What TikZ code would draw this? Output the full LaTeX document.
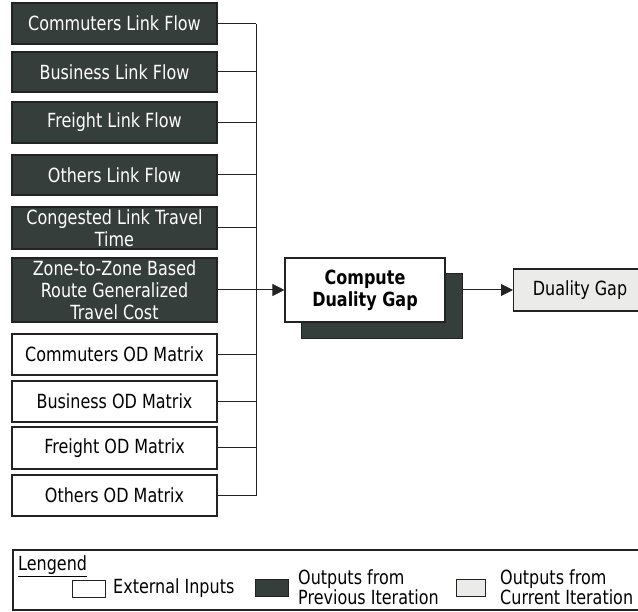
\documentclass[tikz,border=0pt]{standalone}
\usepackage{fontspec}
\setmainfont{DejaVu Sans}[FakeStretch=0.82]
\usetikzlibrary{arrows.meta}
\definecolor{prevfill}{RGB}{53,62,59}
\definecolor{currfill}{RGB}{235,235,233}
\definecolor{inkline}{RGB}{35,35,35}
\begin{document}
\begin{tikzpicture}[x=1pt,y=-1pt,
  font=\fontsize{19.5}{22}\selectfont,
  basebox/.style={draw=inkline,line width=1.1pt,inner sep=0pt,align=center},
  prevbox/.style={basebox,fill=prevfill,text=white,minimum width=205pt},
  inbox/.style={basebox,fill=white,text=black,minimum width=205pt},
  currbox/.style={basebox,fill=currfill,text=black},
  procbox/.style={basebox,fill=white,font=\fontsize{19.5}{22}\selectfont\bfseries,minimum width=160pt,minimum height=64pt},
  feed/.style={draw=inkline,line width=1pt},
  flow/.style={feed,-{Triangle[length=12pt,width=12pt]}},
  swatch/.style={draw=inkline,line width=0.9pt,minimum width=33pt,minimum height=17pt,inner sep=0pt}
]
\clip (0,0) rectangle (638,612);

% previous-iteration outputs
\node[prevbox,minimum height=41pt] (clf) at (114.5,23.5) {Commuters Link Flow};
\node[prevbox,minimum height=40pt] (blf) at (114.5,72) {Business Link Flow};
\node[prevbox,minimum height=41pt] (flf) at (114.5,122.5) {Freight Link Flow};
\node[prevbox,minimum height=40pt] (olf) at (114.5,175) {Others Link Flow};
\node[prevbox,minimum height=42pt] (clt) at (114.5,228) {Congested Link Travel\\Time};
\node[prevbox,minimum height=64pt] (zgc) at (114.5,290) {Zone-to-Zone Based\\Route Generalized\\Travel Cost};

% external inputs
\node[inbox,minimum height=41pt] (cod) at (114.5,354.5) {Commuters OD Matrix};
\node[inbox,minimum height=41pt] (bod) at (114.5,401.5) {Business OD Matrix};
\node[inbox,minimum height=42pt] (fod) at (114.5,448) {Freight OD Matrix};
\node[inbox,minimum height=41pt] (ood) at (114.5,495.5) {Others OD Matrix};

% collecting bus
\coordinate (busT) at (256,24);
\coordinate (busB) at (256,496);
\coordinate (busM) at (256,290);
\draw[feed] (busT) -- (busB);
\foreach \n in {clf,blf,flf,olf,clt,zgc,cod,bod,fod,ood}
  \draw[feed] (\n.east) -- (\n.east -| busT);

% process with drop shadow
\fill[prevfill] (301,273) rectangle (462,338);
\draw[inkline,line width=0.8pt] (301,273) rectangle (462,338);
\coordinate (shadowE) at (462,290);
\node[procbox] (cdg) at (365,290) {Compute\\Duality Gap};
\draw[flow] (busM) -- (cdg.west);

% current-iteration output
\node[currbox,minimum width=135pt,minimum height=42pt,anchor=west] (dgap) at (513,290) {};
\node[anchor=center] (dgapt) at (580,290) {Duality Gap};
\draw[flow] (shadowE) -- (dgap.west);

% legend
\draw[inkline,line width=1.1pt] (13,550) rectangle (660,610);
\node[anchor=west,inner sep=0pt] (lgt) at (18,566) {\underline{Lengend}};
\node[swatch,fill=white] (s1) at (89,588.5) {};
\node[anchor=west,inner sep=0pt] (s1t) at (113,588) {External Inputs};
\node[swatch,fill=prevfill] (s2) at (271.5,587.5) {};
\node[anchor=west,inner sep=0pt,align=left,font=\fontsize{19.5}{20}\selectfont] (s2t) at (298,587) {Outputs from\\Previous Iteration};
\node[swatch,fill=currfill,minimum width=29pt] (s3) at (470.5,588) {};
\node[anchor=west,inner sep=0pt,align=left,font=\fontsize{19.5}{20}\selectfont] (s3t) at (500,587) {Outputs from\\Current Iteration};
\end{tikzpicture}
\end{document}
